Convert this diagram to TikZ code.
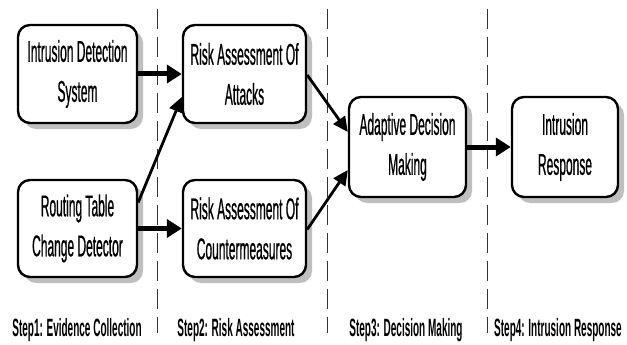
\documentclass[tikz,border=0pt]{standalone}
\usepackage{fontspec}
\setmainfont{Liberation Sans}[FakeStretch=0.40]
\newfontfamily\boxfont{Liberation Sans}[FakeStretch=0.40,FakeBold=0.6]
\usetikzlibrary{arrows.meta,shadows}
\begin{document}
\begin{tikzpicture}[x=1pt,y=-1pt,
  box/.style={draw=black, line width=2.4pt, rounded corners=12pt, fill=white,
    align=center, inner sep=0pt,
    font=\boxfont\fontsize{30}{40}\selectfont,
    drop shadow={shadow xshift=6pt, shadow yshift=-6pt, fill=black!25, opacity=1}},
  thickarrow/.style={line width=5pt, -{Triangle[length=15pt,width=18pt]}},
  thinarrow/.style={line width=2.8pt, -{Triangle[length=15pt,width=14pt]}},
  divider/.style={line width=1pt, dash pattern=on 20pt off 8pt, black!80},
  steplabel/.style={font=\fontsize{25}{28}\bfseries\selectfont, anchor=base, inner sep=0pt}]
\useasboundingbox (0,0) rectangle (627,345);
\fill[white] (0,0) rectangle (627,345);

\coordinate (d1t) at (157,9);  \coordinate (d1b) at (157,333);
\coordinate (d2t) at (327,9);  \coordinate (d2b) at (327,333);
\coordinate (d3t) at (487,9);  \coordinate (d3b) at (487,333);
\draw[divider] (d1t) -- (d1b);
\draw[divider] (d2t) -- (d2b);
\draw[divider] (d3t) -- (d3b);

\node[box, minimum width=119pt, minimum height=98pt] (ids) at (77.5,74) {Intrusion Detection\\System};
\node[box, minimum width=123pt, minimum height=98pt] (att) at (244.5,74) {Risk Assessment Of\\Attacks};
\node[box, minimum width=119pt, minimum height=97pt] (rt) at (77.5,228.5) {Routing Table\\Change Detector};
\node[box, minimum width=123pt, minimum height=97pt] (cm) at (244.5,228.5) {Risk Assessment Of\\Countermeasures};
\node[box, minimum width=117pt, minimum height=100pt] (ada) at (407.5,147) {Adaptive Decision\\Making};
\node[box, minimum width=106pt, minimum height=100pt] (resp) at (565,147) {Intrusion\\Response};

\draw[thickarrow] (ids.east) -- (att.west);
\draw[thickarrow] (rt.east) -- (cm.west);
\draw[thickarrow] (ada.east) -- (resp.west);
\draw[thinarrow] ([yshift=26pt]rt.east) -- ([yshift=-23pt]att.west);
\draw[thinarrow] ([yshift=-1pt]att.east) -- ([yshift=15pt]ada.west);
\draw[thinarrow] ([yshift=-1pt]cm.east) -- ([yshift=-23pt]ada.west);

\node[steplabel] (s1) at (77,336) {Step1: Evidence Collection};
\node[steplabel] (s2) at (236,336) {Step2: Risk Assessment};
\node[steplabel] (s3) at (406,336) {Step3: Decision Making};
\node[steplabel] (s4) at (558,336) {Step4: Intrusion Response};
\end{tikzpicture}
\end{document}
